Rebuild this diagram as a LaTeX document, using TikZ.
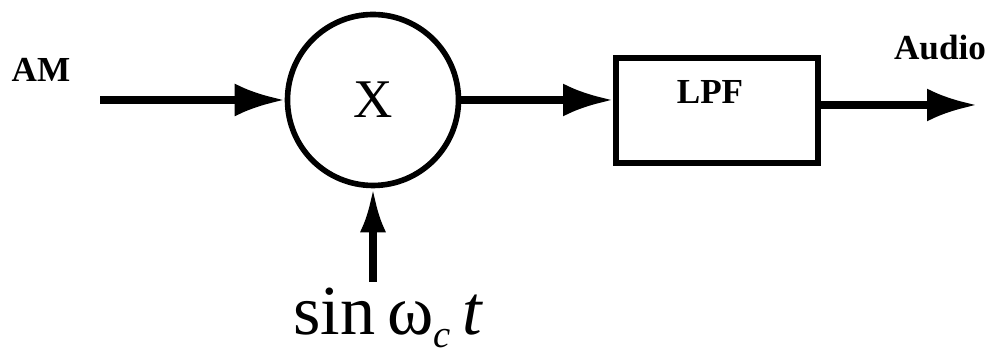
\documentclass[tikz,border=0pt]{standalone}
\usepackage{fontspec}
\setmainfont{Liberation Serif}
\usetikzlibrary{arrows.meta,positioning,calc}

\begin{document}
\begin{tikzpicture}[
  mixer/.style={draw, circle, line width=3.2pt, minimum size=3.42cm, inner sep=0pt, font=\fontsize{31}{34}\selectfont},
  block/.style={draw, rectangle, line width=3.4pt, minimum width=4.04cm, minimum height=2.1cm},
  lbl/.style={font=\fontsize{20}{24}\selectfont\bfseries},
  arrow/.style={-{Latex[length=1cm,width=0.66cm]}, line width=4pt},
  small arrow/.style={-{Latex[length=0.88cm,width=0.52cm]}, line width=4pt}
]
\useasboundingbox (0,0) rectangle (19.76,7.2);

\node[mixer] (mixer) at (7.46,5.2) {X};
\node[block] (lpf) at (14.34,4.99) {};
\node[lbl] (lpftext) at (14.2,5.36) {LPF};

\node[lbl] (am) at (0.82,5.8) {AM};
\node[lbl] (audio) at (18.8,6.24) {Audio};
\node[anchor=base west, inner sep=0pt, font=\fontsize{40}{44}\selectfont] (carrier) at (5.86,0.5)
  {sin\,ω\raisebox{-0.18em}{\fontsize{22}{24}\selectfont\textit{c}}\,\textit{t}};

\coordinate (in) at (2.0,5.2);
\coordinate (out) at (19.54,5.1);
\coordinate (lo) at (7.46,1.56);

\draw[arrow] (in) -- (mixer.west);
\draw[arrow] (mixer.east) -- (mixer.east -| lpf.west);
\draw[arrow] (lpf.east |- out) -- (out);
\draw[small arrow] (lo) -- (mixer.south);
\end{tikzpicture}
\end{document}
